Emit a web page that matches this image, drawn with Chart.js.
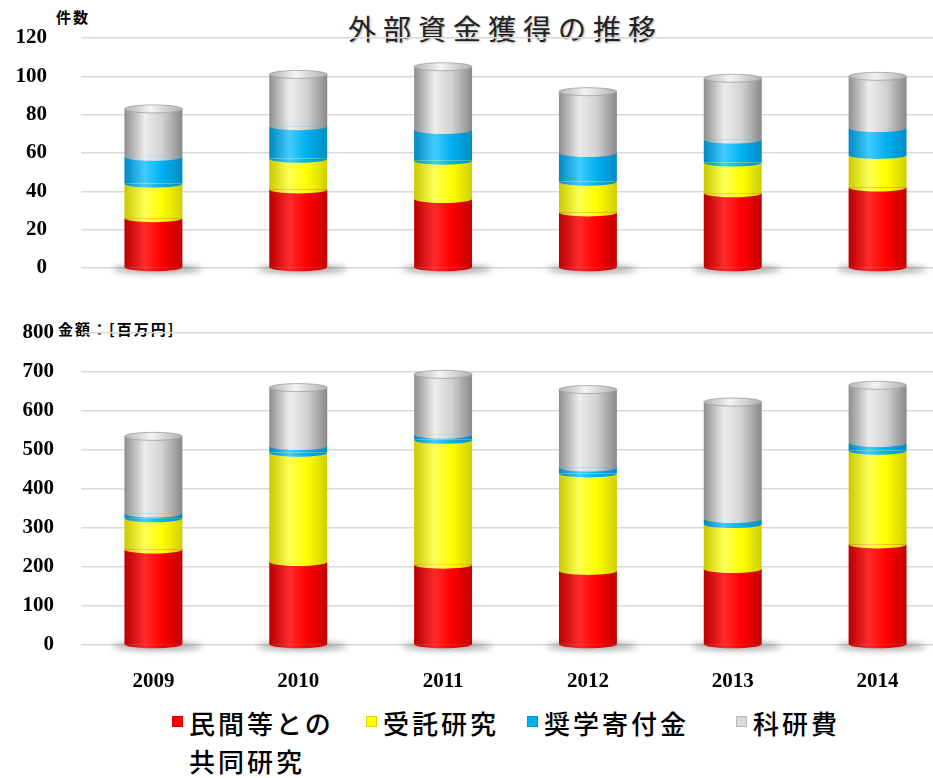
<!DOCTYPE html>
<html lang="ja">
<head>
<meta charset="UTF-8">
<title>外部資金獲得の推移</title>
<script src="https://cdn.jsdelivr.net/npm/chart.js"></script>
<style>
  * { margin: 0; padding: 0; box-sizing: border-box; }
  html, body { width: 933px; height: 778px; overflow: hidden; background: #fff; }
  body { position: relative; font-family: 'Noto Sans CJK JP', sans-serif; color: #000; }
  .title {
    position: absolute; left: 348px; top: 8px;
    font-size: 28px; letter-spacing: 7px; color: #222;
    text-shadow: 1px 1px 2px rgba(0,0,0,0.35);
  }
  .unit { position: absolute; font-size: 15px; font-weight: bold; letter-spacing: 2px; }
  canvas { position: absolute; left: 0; display: block; }
  #countChart { top: 0; }
  #amountChart { top: 300px; }
  .legend-item { position: absolute; top: 704px; display: flex; align-items: flex-start; }
  .legend-item .box { width: 11px; height: 11px; margin: 12px 6px 0 0; }
  .legend-item .txt { font-size: 26px; line-height: 38px; letter-spacing: 3px; white-space: pre-line; font-weight: 500; }
</style>
</head>
<body>
  <div class="title">外部資金獲得の推移</div>
  <div class="unit" style="left:56px; top:6px;">件数</div>
  <div class="unit" style="left:58px; top:318px;">金額：[百万円]</div>

  <canvas id="countChart" width="950" height="290"></canvas>
  <canvas id="amountChart" width="950" height="400"></canvas>
  <div id="legend"></div>

<script>
// 年度
const years = ['2009', '2010', '2011', '2012', '2013', '2014'];
// 系列名
const seriesNames = ['民間等との\n共同研究', '受託研究', '奨学寄付金', '科研費'];

// 件数
const countJoint   = [26, 41, 36, 29, 39, 42];
const countContract = [18, 16, 20, 16, 16, 17];
const countDonation = [14, 17, 16, 15, 12, 14];
const countKaken   = [25, 27, 33, 32, 32, 27];

// 金額（百万円）
const amountJoint   = [245, 213, 206, 190, 195, 258];
const amountContract = [80, 280, 320, 250, 115, 240];
const amountDonation = [12, 17, 13, 15, 13, 20];
const amountKaken   = [198, 150, 155, 200, 300, 148];

const countTicks = [0, 20, 40, 60, 80, 100, 120];
const amountTicks = [0, 100, 200, 300, 400, 500, 600, 700, 800];

// 円柱風の色 (左端, ハイライト, 中央, 右端)
const shades = [
  ['#b80000', '#ff2a2a', '#ff0000', '#c20000'],
  ['#c9c900', '#ffff55', '#ffff00', '#cfcf00'],
  ['#0088c0', '#40ccff', '#00b0f0', '#008cc4'],
  ['#8e8e8e', '#ececec', '#d2d2d2', '#888888']
];
const legendColors = ['#ff0000', '#ffff00', '#00b0f0', '#d9d9d9'];
const legendLeft = [172, 366, 527, 736];

function cylinderFill(idx) {
  return function (ctx) {
    const chart = ctx.chart;
    const xs = chart.scales.x;
    if (!chart.chartArea || !xs) return shades[idx][2];
    const x = xs.getPixelForValue(ctx.dataIndex);
    const w = (xs.right - xs.left) / chart.data.labels.length * 0.4;
    const g = chart.ctx.createLinearGradient(x - w / 2, 0, x + w / 2, 0);
    g.addColorStop(0, shades[idx][0]);
    g.addColorStop(0.35, shades[idx][1]);
    g.addColorStop(0.65, shades[idx][2]);
    g.addColorStop(1, shades[idx][3]);
    return g;
  };
}

const cylinderCaps = {
  id: 'cylinderCaps',
  beforeDatasetsDraw(chart) {
    const c = chart.ctx;
    chart.getDatasetMeta(0).data.forEach(bar => {
      c.save();
      c.filter = 'blur(3px)';
      c.fillStyle = 'rgba(0,0,0,0.35)';
      c.beginPath();
      c.ellipse(bar.x + 4, bar.base + 2, bar.width * 0.78, 4, 0, 0, Math.PI * 2);
      c.fill();
      c.restore();
    });
  },
  afterDatasetsDraw(chart) {
    const c = chart.ctx;
    const n = chart.data.datasets.length;
    for (let d = 0; d < n; d++) {
      chart.getDatasetMeta(d).data.forEach(bar => {
        if (Math.abs(bar.base - bar.y) < 0.5) return;
        c.save();
        c.fillStyle = bar.options.backgroundColor;
        c.beginPath();
        c.ellipse(bar.x, bar.base, bar.width / 2, 4, 0, 0, Math.PI);
        c.fill();
        c.restore();
      });
    }
    chart.getDatasetMeta(n - 1).data.forEach(bar => {
      c.save();
      const g = c.createLinearGradient(bar.x - bar.width / 2, 0, bar.x + bar.width / 2, 0);
      g.addColorStop(0, '#b4b4b4');
      g.addColorStop(0.45, '#f4f4f4');
      g.addColorStop(1, '#b0b0b0');
      c.fillStyle = g;
      c.strokeStyle = '#a0a0a0';
      c.lineWidth = 0.8;
      c.beginPath();
      c.ellipse(bar.x, bar.y, bar.width / 2, 4, 0, 0, Math.PI * 2);
      c.fill();
      c.stroke();
      c.restore();
    });
  }
};

function makeDatasets(values) {
  return values.map((v, i) => ({
    label: seriesNames[i].replace('\n', ''),
    data: v,
    backgroundColor: cylinderFill(i),
    borderWidth: 0,
    barPercentage: 0.4,
    categoryPercentage: 1
  }));
}

const tickFont = { family: "'Liberation Serif', 'Times New Roman', serif", size: 21, weight: 'bold' };

function makeOptions(ticksList, showX, pad, labelPad) {
  return {
    responsive: false,
    animation: false,
    layout: { padding: pad },
    plugins: { legend: { display: false }, tooltip: { enabled: false } },
    scales: {
      x: {
        stacked: true,
        display: showX,
        grid: { display: false, drawTicks: false },
        border: { display: false },
        ticks: { color: '#000', font: tickFont, padding: 24 },
        afterFit: axis => {
          if (showX) axis.height = 49;
          axis.paddingLeft = 0;
          axis.paddingRight = 0;
        }
      },
      y: {
        stacked: true,
        min: ticksList[0],
        max: ticksList[ticksList.length - 1],
        afterBuildTicks: axis => { axis.ticks = ticksList.map(v => ({ value: v })); },
        // 目盛ラベルの余白が上下の余白に加算されないようにする
        afterFit: axis => { axis.width = 81; axis.paddingTop = 8; axis.paddingBottom = 8; },
        grid: { color: '#d9d9d9', lineWidth: 1.5, drawTicks: false },
        border: { display: false },
        ticks: { color: '#000', font: tickFont, padding: labelPad }
      }
    }
  };
}

new Chart(document.getElementById('countChart'), {
  type: 'bar',
  data: { labels: years, datasets: makeDatasets([countJoint, countContract, countDonation, countKaken]) },
  options: makeOptions(countTicks, false, { top: 38, bottom: 22, left: 0, right: 0 }, 34),
  plugins: [cylinderCaps]
});

new Chart(document.getElementById('amountChart'), {
  type: 'bar',
  data: { labels: years, datasets: makeDatasets([amountJoint, amountContract, amountDonation, amountKaken]) },
  options: makeOptions(amountTicks, true, { top: 33, bottom: 6, left: 0, right: 0 }, 27),
  plugins: [cylinderCaps]
});

// 凡例
const legendBox = document.getElementById('legend');
seriesNames.forEach((name, i) => {
  const item = document.createElement('div');
  item.className = 'legend-item';
  item.style.left = legendLeft[i] + 'px';
  item.innerHTML = '<div class="box" style="background:' + legendColors[i] +
    '; border:1px solid rgba(0,0,0,0.15)"></div><div class="txt">' + name + '</div>';
  legendBox.appendChild(item);
});
</script>
</body>
</html>
